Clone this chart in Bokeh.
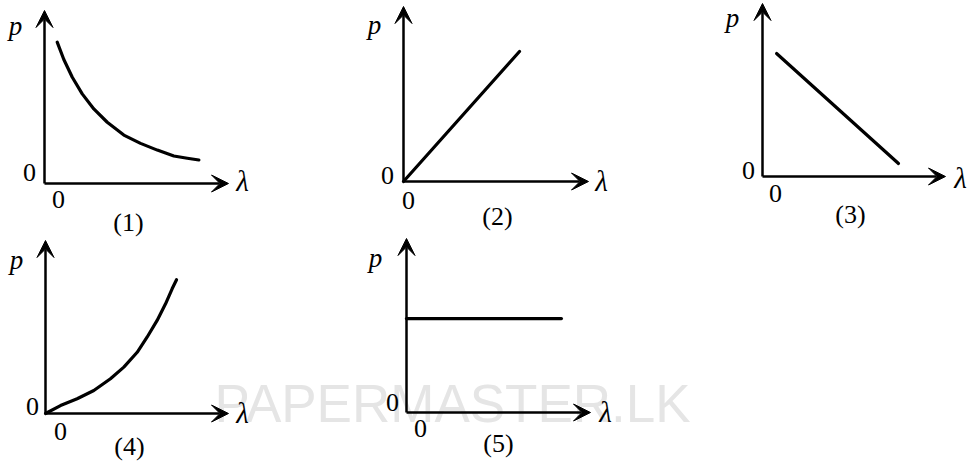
from bokeh.plotting import figure
from bokeh.models import Range1d, Arrow, VeeHead, Label
from bokeh.embed import file_html
from bokeh.resources import INLINE

# ---- data (normalised units: arrow tip of each axis = 1) ----
LAM_1 = [0.069, 0.105, 0.151, 0.205, 0.268, 0.341, 0.431, 0.522, 0.613, 0.703, 0.776, 0.839]
P_1 = [0.817, 0.717, 0.614, 0.518, 0.431, 0.354, 0.280, 0.232, 0.193, 0.159, 0.146, 0.136]
LAM_2 = [0.0, 0.627]
P_2 = [0.0, 0.743]
LAM_3 = [0.077, 0.743]
P_3 = [0.711, 0.075]
LAM_4 = [0.0, 0.082, 0.173, 0.264, 0.355, 0.428, 0.501, 0.555, 0.610, 0.656, 0.692, 0.716]
P_4 = [0.0, 0.046, 0.085, 0.133, 0.201, 0.268, 0.354, 0.441, 0.538, 0.634, 0.721, 0.773]
LAM_5 = [0.0, 0.842]
P_5 = [0.540, 0.540]

CAPTIONS = ["(1)", "(2)", "(3)", "(4)", "(5)"]
Y_LABEL = "p"
X_LABEL = "λ"
ZERO = "0"
WATERMARK = "PAPERMASTER.LK"

SERIES = [(LAM_1, P_1), (LAM_2, P_2), (LAM_3, P_3), (LAM_4, P_4), (LAM_5, P_5)]

# ---- layout / style (page pixels) ----
W, H = 968, 461
# origin x, origin y, x-axis length, y-axis length
PANELS = [
    (44, 183, 184, 173),
    (403, 181, 185, 175),
    (762, 176, 183, 173),
    (45, 413, 183, 173),
    (406, 412, 184, 174),
]
# label offsets from origin (dx, dy; dy down): p, 0 left, 0 below, caption, lambda
OFFS = [
    [(-29, -158), (-15, -11), (14, 16), (84, 39), (198, -3)],
    [(-29, -157), (-16, -6), (5, 19), (94, 35), (198, -1)],
    [(-30, -159), (-14, -6), (13, 17), (88, 38), (198, 1)],
    [(-29, -154), (-13, -7), (15, 18), (84, 33), (197, -1)],
    [(-31, -155), (-14, -10), (14, 16), (92, 31), (199, -1)],
]

p = figure(width=W, height=H, output_backend="svg", toolbar_location=None,
           x_range=Range1d(0, W), y_range=Range1d(H, 0),
           x_axis_location=None, y_axis_location=None,
           min_border=0, outline_line_color=None,
           background_fill_color="white", border_fill_color="white")
p.grid.visible = False

# watermark (behind everything)
p.add_layout(Label(x=214, y=403, text=WATERMARK,
                   text_font="Liberation Sans", text_font_size="53px",
                   text_color="#e5e5e5", text_align="left",
                   text_baseline="alphabetic", level="underlay"))

SERIF = "Liberation Serif"

for i, ((lam, pv), (ox, oy, lx, ly), offs, cap) in enumerate(zip(SERIES, PANELS, OFFS, CAPTIONS)):
    xn, yn = f"x{i}", f"y{i}"
    p.extra_x_ranges[xn] = Range1d(-ox / lx, (W - ox) / lx)
    p.extra_y_ranges[yn] = Range1d(-(H - oy) / ly, oy / ly)

    # axes as arrows
    for (xe, ye) in [(1.0, 0.0), (0.0, 1.0)]:
        p.add_layout(Arrow(end=VeeHead(size=17, fill_color="black", line_color="black", line_width=1),
                           x_start=0, y_start=0, x_end=xe, y_end=ye,
                           x_range_name=xn, y_range_name=yn,
                           line_color="black", line_width=2.5))

    p.line(lam, pv, x_range_name=xn, y_range_name=yn,
           line_color="black", line_width=3.2, line_cap="round", line_join="round")

    texts = [Y_LABEL, ZERO, ZERO, cap, X_LABEL]
    for j, (t, (dx, dy)) in enumerate(zip(texts, offs)):
        italic = t in (Y_LABEL, X_LABEL)
        size = "29px" if t == X_LABEL else ("27px" if t == Y_LABEL else "26px")
        p.add_layout(Label(x=0, y=0, x_range_name=xn, y_range_name=yn,
                           x_offset=dx, y_offset=-dy, text=t,
                           text_font=SERIF, text_font_size=size,
                           text_font_style="italic" if italic else "normal",
                           text_color="black", text_align="center",
                           text_baseline="middle"))

open("out.html", "w").write(file_html(p, INLINE))
